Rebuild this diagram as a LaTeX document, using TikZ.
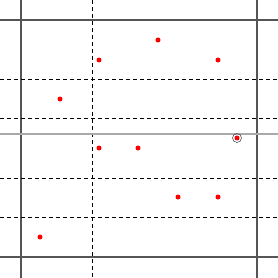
\documentclass[tikz,border=0pt]{standalone}
\usepackage{xcolor}
\usepackage{tikz}
\definecolor{grid}{HTML}{555555}
\definecolor{split}{HTML}{AAAAAA}
\definecolor{dot}{HTML}{FF0000}

\begin{document}
\begin{tikzpicture}[
  x=1pt, y=-1pt,
  frame/.style={draw=grid, line width=1.3pt},
  cut/.style={draw=black, line width=0.9pt, dash pattern=on 4pt off 3pt},
  query/.style={draw=split, line width=1.4pt},
  pt/.style={circle, fill=dot, inner sep=0pt, minimum size=5pt},
  ring/.style={circle, draw=grid, inner sep=0pt, minimum size=9pt, line width=0.6pt}
]
\useasboundingbox (0,0) rectangle (278,278);
% outer frame lines
\draw[frame] (21,0) -- (21,278);
\draw[frame] (257,0) -- (257,278);
\draw[frame] (0,20) -- (278,20);
\draw[frame] (0,257) -- (278,257);
% splitting lines
\draw[cut] (92,0) -- (92,278);
\draw[cut] (0,79) -- (278,79);
\draw[cut] (0,118) -- (278,118);
\draw[cut] (0,178) -- (278,178);
\draw[cut] (0,217) -- (278,217);
\draw[query] (0,134) -- (278,134);
% points
\node[pt] (p1) at (99,60) {};
\node[pt] (p2) at (158,40) {};
\node[pt] (p3) at (218,60) {};
\node[pt] (p4) at (60,99) {};
\node[pt] (p5) at (99,148) {};
\node[pt] (p6) at (138,148) {};
\node[pt] (p7) at (178,197) {};
\node[pt] (p8) at (218,197) {};
\node[pt] (p9) at (40,237) {};
\node[pt] (q) at (237,138) {};
\node[ring] at (q) {};
\end{tikzpicture}
\end{document}
